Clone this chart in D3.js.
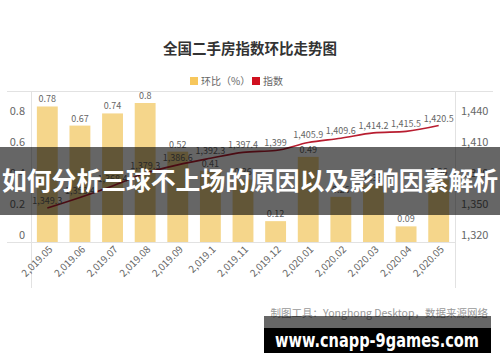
<!DOCTYPE html>
<html><head><meta charset="utf-8">
<script src="https://cdn.jsdelivr.net/npm/d3@7"></script>
<style>body{margin:0;background:#fff}svg{display:block}</style>
</head><body>
<svg id="c" width="500" height="362"></svg>
<script>
const categories = ["2,019.05","2,019.06","2,019.07","2,019.08","2,019.09","2,019.1","2,019.11","2,019.12","2,020.01","2,020.02","2,020.03","2,020.04","2,020.05"];
const momValues = [0.78,0.67,0.74,0.8,0.52,0.41,0.36,0.12,0.49,0.26,0.33,0.09,0.36];
const indexValues = [1349.3,1358.4,1368.4,1379.3,1386.6,1392.3,1397.4,1399,1405.9,1409.6,1414.2,1415.5,1420.5];
const leftTicks = [0,0.2,0.4,0.6,0.8];
const rightTicks = [1320,1350,1380,1410,1440];
const title = "全国二手房指数环比走势图";
const legendItems = ["环比（%）","指数"];
const overlayText = "如何分析三球不上场的原因以及影响因素解析";
const footnote = "制图工具：Yonghong Desktop，数据来源网络";
const watermark = "www.cnapp-9games.com";

const svg = d3.select("#c");
const font = "'Noto Sans CJK SC','Noto Sans',sans-serif";
const barColor = "#f5d68b", lineColor = "#b81d30", txt = "#666";

const x = d3.scaleBand().domain(categories).range([31,455]).paddingInner(0.36).paddingOuter(0.18);
const yL = d3.scaleLinear().domain([0,0.8]).range([242,103]);
const yR = d3.scaleLinear().domain([1320,1440]).range([242,103]);
const yLlab = d3.scaleLinear().domain([0,0.8]).range([235,111]);
const yRlab = d3.scaleLinear().domain([1320,1440]).range([235,111]);

// title
svg.append("text").attr("x",250).attr("y",54).attr("text-anchor","middle")
  .attr("font-family",font).attr("font-weight","bold").attr("font-size",14.5).attr("fill","#333").text(title);

// legend
const lg = svg.append("g").attr("font-family",font).attr("font-size",10).attr("fill",txt);
lg.append("rect").attr("x",190).attr("y",77).attr("width",8).attr("height",8).attr("fill","#f7c75c");
lg.append("text").attr("x",201).attr("y",85).text(legendItems[0]);
lg.append("rect").attr("x",252).attr("y",77).attr("width",8).attr("height",8).attr("fill","#d0101f");
lg.append("text").attr("x",263).attr("y",85).text(legendItems[1]);

// frame lines
svg.append("line").attr("x1",7).attr("x2",493).attr("y1",91.5).attr("y2",91.5).attr("stroke","#e2e2e2");
svg.append("line").attr("x1",7).attr("x2",455).attr("y1",242.5).attr("y2",242.5).attr("stroke","#e2e2e2");
[31,455].forEach(v=>svg.append("line").attr("x1",v+0.5).attr("x2",v+0.5).attr("y1",91).attr("y2",288).attr("stroke","#e2e2e2"));

// axes labels
const axL = svg.append("g").attr("transform","translate(31,0)")
  .call(d3.axisLeft(yLlab).tickValues(leftTicks).tickFormat(d3.format("")).tickSize(0).tickPadding(6));
axL.select(".domain").remove();
axL.selectAll("text").attr("font-family",font).attr("font-size",11).attr("fill",txt);
const axR = svg.append("g").attr("transform","translate(455,0)")
  .call(d3.axisRight(yRlab).tickValues(rightTicks).tickFormat(d3.format(",")).tickSize(0).tickPadding(6));
axR.select(".domain").remove();
axR.selectAll("text").attr("font-family",font).attr("font-size",11).attr("fill",txt);

// x labels
const xl = svg.append("g").attr("font-family",font).attr("font-size",10).attr("fill",txt);
categories.forEach(c=>{
  xl.append("text").attr("text-anchor","end")
    .attr("transform",`translate(${x(c)+x.bandwidth()/2+6},${250}) rotate(-45)`).text(c);
});

// bars
svg.append("g").selectAll("rect").data(categories).join("rect")
  .attr("x",d=>x(d)).attr("width",x.bandwidth())
  .attr("y",(d,i)=>yL(momValues[i])).attr("height",(d,i)=>yL(0)-yL(momValues[i]))
  .attr("fill",barColor);
svg.append("g").attr("font-family",font).attr("font-size",9).attr("fill",txt).attr("text-anchor","middle")
  .selectAll("text").data(categories).join("text")
  .attr("x",d=>x(d)+x.bandwidth()/2).attr("y",(d,i)=>yL(momValues[i])-4)
  .text((d,i)=>momValues[i]);

// line
const line = d3.line().x((d,i)=>x(categories[i])+x.bandwidth()/2).y(d=>yR(d)).curve(d3.curveMonotoneX);
svg.append("path").datum(indexValues).attr("d",line).attr("fill","none").attr("stroke",lineColor).attr("stroke-width",1.6);
svg.append("g").attr("font-family",font).attr("font-size",9).attr("fill",txt).attr("text-anchor","middle")
  .selectAll("text").data(indexValues).join("text")
  .attr("x",(d,i)=>x(categories[i])+x.bandwidth()/2).attr("y",d=>yR(d)-4)
  .text(d=>d3.format(",")(d));

// footnote
svg.append("text").attr("x",488).attr("y",317).attr("text-anchor","end").attr("font-family",font)
  .attr("font-size",10.5).attr("fill","#999").text(footnote);

// overlay band
svg.append("rect").attr("x",0).attr("y",147).attr("width",500).attr("height",68).attr("fill","rgba(0,0,0,0.6)");
svg.append("text").attr("x",250).attr("y",190).attr("text-anchor","middle").attr("font-family",font)
  .attr("font-weight","bold").attr("font-size",25).attr("fill","#fff").attr("textLength",496).attr("lengthAdjust","spacingAndGlyphs").text(overlayText);

// watermark
svg.append("rect").attr("x",264).attr("y",316).attr("width",227).attr("height",12).attr("fill","rgba(0,0,0,0.6)");
svg.append("rect").attr("x",264).attr("y",328).attr("width",227).attr("height",25).attr("fill","#000");
svg.append("text").attr("x",377).attr("y",347).attr("text-anchor","middle").attr("font-family","'DejaVu Sans',sans-serif")
  .attr("font-weight","bold").attr("font-size",19).attr("fill","#fff").attr("textLength",204).attr("lengthAdjust","spacingAndGlyphs").text(watermark);
</script>
</body></html>
